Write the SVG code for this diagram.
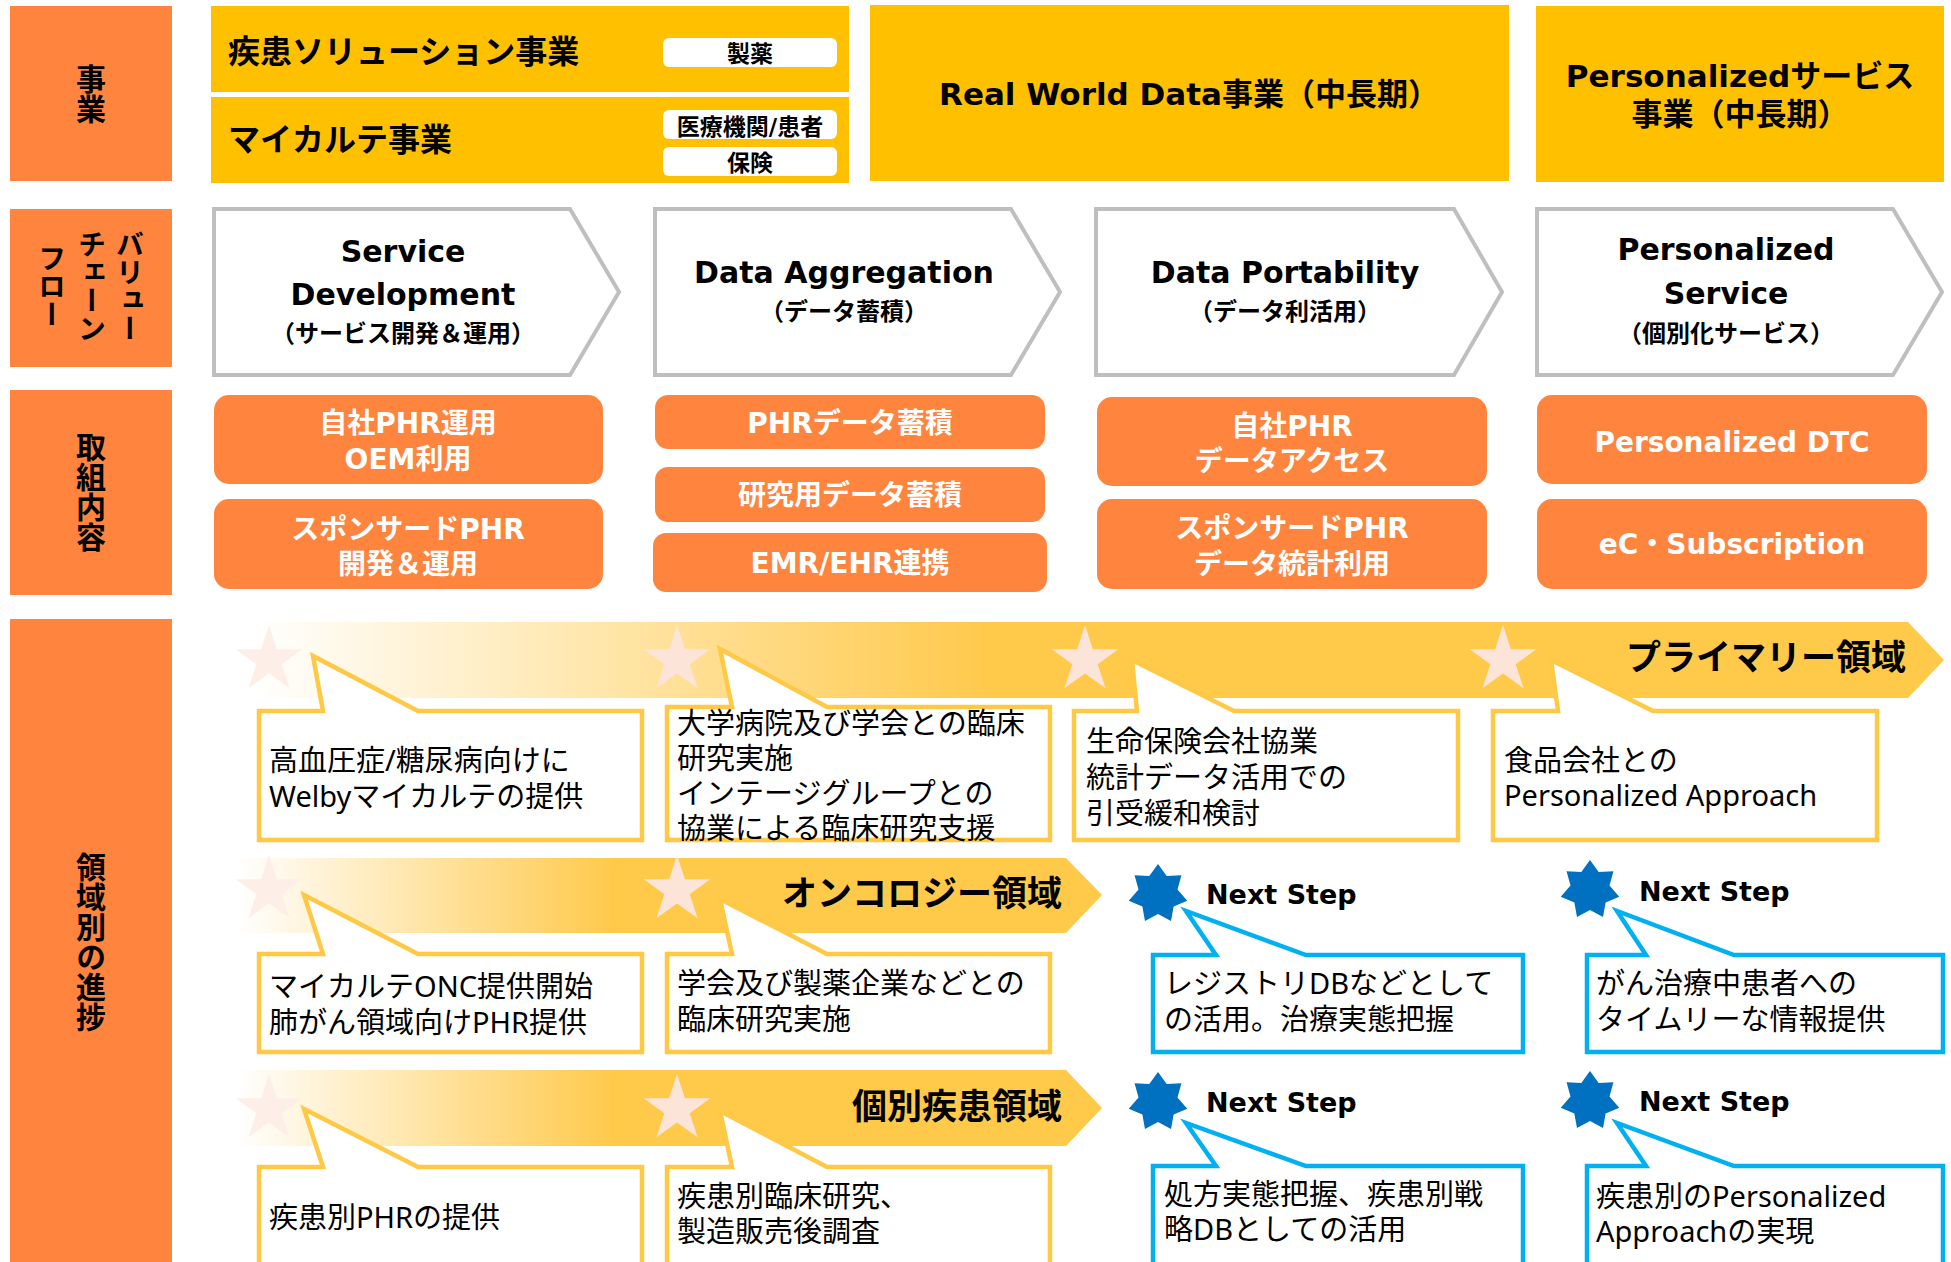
<svg xmlns="http://www.w3.org/2000/svg" width="1951" height="1262" viewBox="0 0 1951 1262">
<defs>
<style>
.lab{fill:#FF843E}
.biz{fill:#FFC000}
.pill{fill:#FFFFFF}
.chev{fill:#FFFFFF;stroke:#BFBFBF;stroke-width:4}
.btn{fill:#FF843E}
.band{fill:url(#grad)}
.cy{fill:#FFFFFF;stroke:#FFC845;stroke-width:4.5}
.cb{fill:#FFFFFF;stroke:#00B0F0;stroke-width:4.5}
.ps{fill:#FDE4D9}
.psf{fill:#FEEEE8}
.bs{fill:#0070C0}
text{font-family:"DejaVu Sans","Noto Sans CJK JP",sans-serif;fill:#000}
.bd{font-weight:bold}
.mid{text-anchor:middle}
.wt{font-weight:bold;fill:#FFFFFF;font-size:28px;text-anchor:middle}
.rg{font-family:"Noto Sans","Noto Sans CJK JP",sans-serif;font-size:29px}
.vt{writing-mode:vertical-rl;font-weight:bold;font-size:30px;font-family:"Noto Sans CJK JP",sans-serif;text-anchor:middle}
.area{font-family:"Noto Sans CJK JP",sans-serif;font-weight:bold;font-size:35px;text-anchor:end}
.ns{font-weight:bold;font-size:27px}
</style>
<linearGradient id="grad" x1="0" y1="0" x2="1" y2="0">
<stop offset="0" stop-color="#FFFFFF"/>
<stop offset="0.02" stop-color="#FFFFFF"/>
<stop offset="0.45" stop-color="#FFC94A"/>
<stop offset="1" stop-color="#FFC94A"/>
</linearGradient>
<polygon id="star5" points="0,-35 7.88,-10.84 33.29,-10.82 12.74,4.14 20.57,28.32 0,13.4 -20.57,28.32 -12.74,4.14 -33.29,-10.82 -7.88,-10.84"/>
<polygon id="star7" points="0,-30 8.68,-18.02 23.45,-18.70 19.50,-4.45 29.25,6.68 15.64,12.47 13.02,27.03 0,20 -13.02,27.03 -15.64,12.47 -29.25,6.68 -19.50,-4.45 -23.45,-18.70 -8.68,-18.02"/>
</defs>
<rect width="1951" height="1262" fill="#FFFFFF"/>

<!-- left labels -->
<g id="label-business">
<rect class="lab" x="10" y="6" width="162" height="175"/>
<text class="vt" x="91" y="94">事業</text>
</g>
<g id="label-valuechain">
<rect class="lab" x="10" y="209" width="162" height="158"/>
<text class="vt" x="130" y="286" style="font-size:28px">バリュー</text>
<text class="vt" x="92" y="286" style="font-size:28px">チェーン</text>
<text class="vt" x="52" y="286" style="font-size:28px">フロー</text>
</g>
<g id="label-activities">
<rect class="lab" x="10" y="390" width="162" height="205"/>
<text class="vt" x="91" y="492">取組内容</text>
</g>
<g id="label-progress">
<rect class="lab" x="10" y="619" width="162" height="650"/>
<text class="vt" x="91" y="942">領域別の進捗</text>
</g>

<!-- business row -->
<g id="biz-disease">
<rect class="biz" x="211" y="6" width="638" height="86"/>
<text class="bd" x="228" y="63" style="font-size:32px">疾患ソリューション事業</text>
<rect class="pill" x="663" y="38" width="174" height="29" rx="6"/>
<text class="bd mid" x="750" y="62" style="font-size:23px">製薬</text>
</g>
<g id="biz-mykarte">
<rect class="biz" x="211" y="97" width="638" height="86"/>
<text class="bd" x="228" y="151" style="font-size:32px">マイカルテ事業</text>
<rect class="pill" x="663" y="110" width="174" height="29" rx="6"/>
<text class="bd mid" x="750" y="135" style="font-size:23px">医療機関/患者</text>
<rect class="pill" x="663" y="147" width="174" height="29" rx="6"/>
<text class="bd mid" x="750" y="171" style="font-size:23px">保険</text>
</g>
<g id="biz-rwd">
<rect class="biz" x="870" y="5" width="639" height="176"/>
<text class="bd mid" x="1189" y="105" style="font-size:31px">Real World Data事業（中長期）</text>
</g>
<g id="biz-personalized">
<rect class="biz" x="1536" y="6" width="408" height="176"/>
<text class="bd mid" x="1740" y="87" style="font-size:31px">Personalizedサービス</text>
<text class="bd mid" x="1740" y="125" style="font-size:31px">事業（中長期）</text>
</g>

<!-- value chain -->
<g id="vc-service">
<polygon class="chev" points="214,209 570,209 619,292 570,375 214,375"/>
<text class="bd mid" x="403" y="262" style="font-size:30px">Service</text>
<text class="bd mid" x="403" y="305" style="font-size:30px">Development</text>
<text class="bd mid" x="403" y="342" style="font-size:24px">（サービス開発＆運用）</text>
</g>
<g id="vc-aggregation">
<polygon class="chev" points="655,209 1011,209 1060,292 1011,375 655,375"/>
<text class="bd mid" x="844" y="283" style="font-size:30px">Data Aggregation</text>
<text class="bd mid" x="844" y="320" style="font-size:24px">（データ蓄積）</text>
</g>
<g id="vc-portability">
<polygon class="chev" points="1096,209 1454,209 1502,292 1454,375 1096,375"/>
<text class="bd mid" x="1285" y="283" style="font-size:30px">Data Portability</text>
<text class="bd mid" x="1285" y="320" style="font-size:24px">（データ利活用）</text>
</g>
<g id="vc-personalized">
<polygon class="chev" points="1537,209 1893,209 1942,292 1893,375 1537,375"/>
<text class="bd mid" x="1726" y="260" style="font-size:30px">Personalized</text>
<text class="bd mid" x="1726" y="304" style="font-size:30px">Service</text>
<text class="bd mid" x="1726" y="342" style="font-size:24px">（個別化サービス）</text>
</g>

<!-- activities -->
<g id="act-own-phr">
<rect class="btn" x="214" y="395" width="389" height="89" rx="15"/>
<text class="wt" x="408" y="433">自社PHR運用</text>
<text class="wt" x="408" y="469">OEM利用</text>
</g>
<g id="act-sponsored-phr">
<rect class="btn" x="214" y="499" width="389" height="90" rx="15"/>
<text class="wt" x="408" y="539">スポンサードPHR</text>
<text class="wt" x="408" y="574">開発＆運用</text>
</g>
<g id="act-phr-data">
<rect class="btn" x="655" y="395" width="390" height="54" rx="13"/>
<text class="wt" x="850" y="433">PHRデータ蓄積</text>
</g>
<g id="act-research-data">
<rect class="btn" x="655" y="467" width="390" height="55" rx="13"/>
<text class="wt" x="850" y="505">研究用データ蓄積</text>
</g>
<g id="act-emr">
<rect class="btn" x="653" y="533" width="394" height="59" rx="13"/>
<text class="wt" x="850" y="573">EMR/EHR連携</text>
</g>
<g id="act-own-access">
<rect class="btn" x="1097" y="397" width="390" height="89" rx="15"/>
<text class="wt" x="1292" y="436">自社PHR</text>
<text class="wt" x="1292" y="471">データアクセス</text>
</g>
<g id="act-sponsored-stats">
<rect class="btn" x="1097" y="499" width="390" height="90" rx="15"/>
<text class="wt" x="1292" y="538">スポンサードPHR</text>
<text class="wt" x="1292" y="574">データ統計利用</text>
</g>
<g id="act-dtc">
<rect class="btn" x="1537" y="395" width="390" height="89" rx="15"/>
<text class="wt" x="1732" y="452">Personalized DTC</text>
</g>
<g id="act-ec">
<rect class="btn" x="1537" y="499" width="390" height="90" rx="15"/>
<text class="wt" x="1732" y="554">eC・Subscription</text>
</g>

<!-- area bands -->
<g id="connectors">
<polygon class="band" points="219,622 1908,622 1944,660 1908,698 219,698"/>
<polygon class="band" points="219,858 1066,858 1102,895 1066,933 219,933"/>
<polygon class="band" points="219,1070 1066,1070 1102,1108 1066,1146 219,1146"/>
</g>
<g id="band-labels">
<text class="area" x="1906" y="670">プライマリー領域</text>
<text class="area" x="1062" y="906">オンコロジー領域</text>
<text class="area" x="1062" y="1119">個別疾患領域</text>
</g>

<!-- primary row -->
<g id="pri-1">
<use href="#star5" class="psf" x="269" y="660"/>
<path class="cy" d="M259,711 L323,711 L313,656 L418,711 L642,711 L642,840 L259,840 Z"/>
<text class="rg" x="269" y="771">高血圧症/糖尿病向けに</text>
<text class="rg" x="269" y="807">Welbyマイカルテの提供</text>
</g>
<g id="pri-2">
<use href="#star5" class="ps" x="677" y="660"/>
<path class="cy" d="M667,707 L732,707 L720,649 L827,707 L1050,707 L1050,840 L667,840 Z"/>
<text class="rg" x="677" y="734">大学病院及び学会との臨床</text>
<text class="rg" x="677" y="769">研究実施</text>
<text class="rg" x="677" y="804">インテージグループとの</text>
<text class="rg" x="677" y="839">協業による臨床研究支援</text>
</g>
<g id="pri-3">
<use href="#star5" class="ps" x="1085" y="660"/>
<path class="cy" d="M1074,711 L1137,711 L1132,660 L1234,711 L1458,711 L1458,840 L1074,840 Z"/>
<text class="rg" x="1086" y="752">生命保険会社協業</text>
<text class="rg" x="1086" y="788">統計データ活用での</text>
<text class="rg" x="1086" y="824">引受緩和検討</text>
</g>
<g id="pri-4">
<use href="#star5" class="ps" x="1503" y="660"/>
<path class="cy" d="M1493,711 L1558,711 L1551,660 L1653,711 L1877,711 L1877,840 L1493,840 Z"/>
<text class="rg" x="1504" y="771">食品会社との</text>
<text class="rg" x="1504" y="806">Personalized Approach</text>
</g>

<!-- oncology row -->
<g id="onc-1">
<use href="#star5" class="psf" x="269" y="890"/>
<path class="cy" d="M259,954 L323,954 L304,895 L418,954 L642,954 L642,1052 L259,1052 Z"/>
<text class="rg" x="269" y="997">マイカルテONC提供開始</text>
<text class="rg" x="269" y="1033">肺がん領域向けPHR提供</text>
</g>
<g id="onc-2">
<use href="#star5" class="ps" x="677" y="890"/>
<path class="cy" d="M667,954 L732,954 L720,899 L827,954 L1050,954 L1050,1052 L667,1052 Z"/>
<text class="rg" x="677" y="994">学会及び製薬企業などとの</text>
<text class="rg" x="677" y="1030">臨床研究実施</text>
</g>
<g id="onc-3">
<use href="#star7" class="bs" x="1158" y="894"/>
<text class="ns" x="1206" y="904">Next Step</text>
<path class="cb" d="M1153,955 L1216,955 L1186,911 L1306,955 L1523,955 L1523,1052 L1153,1052 Z"/>
<text class="rg" x="1164" y="994">レジストリDBなどとして</text>
<text class="rg" x="1164" y="1030">の活用。治療実態把握</text>
</g>
<g id="onc-4">
<use href="#star7" class="bs" x="1590" y="890"/>
<text class="ns" x="1639" y="901">Next Step</text>
<path class="cb" d="M1587,955 L1646,955 L1617,911 L1734,955 L1943,955 L1943,1052 L1587,1052 Z"/>
<text class="rg" x="1596" y="994">がん治療中患者への</text>
<text class="rg" x="1596" y="1030">タイムリーな情報提供</text>
</g>

<!-- individual disease row -->
<g id="ind-1">
<use href="#star5" class="psf" x="269" y="1109"/>
<path class="cy" d="M259,1167 L323,1167 L304,1109 L418,1167 L642,1167 L642,1280 L259,1280 Z"/>
<text class="rg" x="269" y="1228">疾患別PHRの提供</text>
</g>
<g id="ind-2">
<use href="#star5" class="ps" x="677" y="1109"/>
<path class="cy" d="M667,1167 L732,1167 L720,1111 L827,1167 L1050,1167 L1050,1280 L667,1280 Z"/>
<text class="rg" x="677" y="1207">疾患別臨床研究、</text>
<text class="rg" x="677" y="1242">製造販売後調査</text>
</g>
<g id="ind-3">
<use href="#star7" class="bs" x="1158" y="1102"/>
<text class="ns" x="1206" y="1112">Next Step</text>
<path class="cb" d="M1153,1166 L1216,1166 L1186,1123 L1306,1166 L1523,1166 L1523,1280 L1153,1280 Z"/>
<text class="rg" x="1164" y="1205">処方実態把握、疾患別戦</text>
<text class="rg" x="1164" y="1240">略DBとしての活用</text>
</g>
<g id="ind-4">
<use href="#star7" class="bs" x="1590" y="1101"/>
<text class="ns" x="1639" y="1111">Next Step</text>
<path class="cb" d="M1587,1166 L1646,1166 L1617,1123 L1734,1166 L1943,1166 L1943,1280 L1587,1280 Z"/>
<text class="rg" x="1596" y="1207">疾患別のPersonalized</text>
<text class="rg" x="1596" y="1242">Approachの実現</text>
</g>
</svg>
